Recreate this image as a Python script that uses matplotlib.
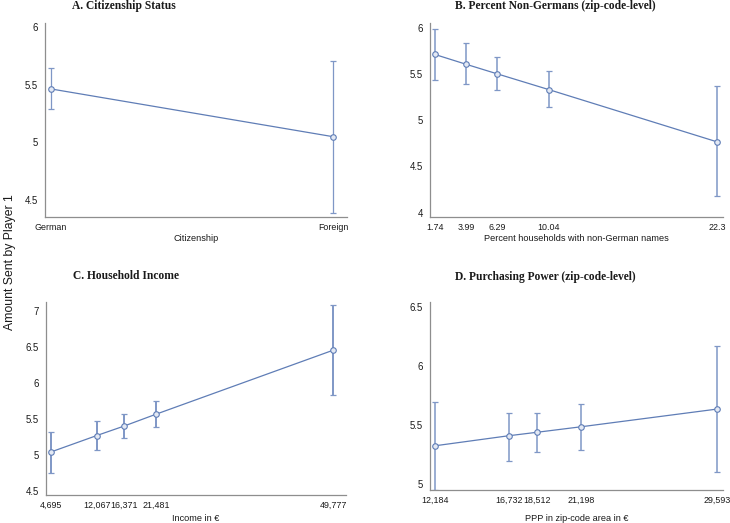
import matplotlib
matplotlib.use("Agg")
import matplotlib.pyplot as plt

# ---------------- data ----------------
# Panel A: citizenship
a_labels = ["German", "Foreign"]
a_x = [0, 1]
a_y = [5.465, 5.05]
a_lo = [5.29, 4.39]
a_hi = [5.65, 5.71]

# Panel B: percent non-Germans
b_x = [1.74, 3.99, 6.29, 10.04, 22.3]
b_labels = ["1.74", "3.99", "6.29", "10.04", "22.3"]
b_y = [5.71, 5.605, 5.50, 5.33, 4.765]
b_lo = [5.43, 5.39, 5.325, 5.14, 4.175]
b_hi = [5.99, 5.83, 5.68, 5.53, 5.37]

# Panel C: household income
c_x = [4695, 12067, 16371, 21481, 49777]
c_labels = ["4,695", "12,067", "16,371", "21,481", "49,777"]
c_y = [5.035, 5.265, 5.395, 5.56, 6.45]
c_lo = [4.74, 5.06, 5.225, 5.38, 5.83]
c_hi = [5.32, 5.46, 5.57, 5.74, 7.07]

# Panel D: purchasing power
d_x = [12184, 16732, 18512, 21198, 29593]
d_labels = ["12,184", "16,732", "18,512", "21,198", "29,593"]
d_y = [5.325, 5.41, 5.44, 5.486, 5.636]
d_lo = [4.95, 5.20, 5.27, 5.29, 5.10]
d_hi = [5.70, 5.60, 5.60, 5.68, 6.17]

a_yticks = [4.5, 5, 5.5, 6]
b_yticks = [4, 4.5, 5, 5.5, 6]
c_yticks = [4.5, 5, 5.5, 6, 6.5, 7]
d_yticks = [5, 5.5, 6, 6.5]

# ---------------- style ----------------
W, H = 730, 523
LINE = "#5f7db6"
ERR = "#7f97c6"
SPINE = "#8e8e8e"
TXT = "#1a1a1a"
SANS = "Liberation Sans"
SERIF = "Liberation Serif"

fig = plt.figure(figsize=(W / 100, H / 100), dpi=100)


def make_ax(x0, y_top, x1, y_bot):
    return fig.add_axes([x0 / W, 1 - y_bot / H, (x1 - x0) / W, (y_bot - y_top) / H])


def fmt_tick(v):
    return ("%g" % v)


def panel(ax, x, y, lo, hi, xticklabels, yticks, xlim, ylim, xlabel, elw, lp):
    yerr = [[yi - l for yi, l in zip(y, lo)], [h - yi for yi, h in zip(y, hi)]]
    ax.errorbar(x, y, yerr=yerr, fmt="none", ecolor=ERR, elinewidth=elw,
                capsize=2.2, capthick=0.9, zorder=2)
    ax.plot(x, y, color=LINE, lw=0.9, marker="o", ms=4,
            mfc="#e3e9f4", mec=LINE, mew=0.8, zorder=3)
    ax.set_xlim(*xlim)
    ax.set_ylim(*ylim)
    ax.set_xticks(x)
    ax.set_xticklabels(xticklabels, fontsize=6.4, family=SANS, color=TXT)
    ax.set_yticks(yticks)
    ax.set_yticklabels([fmt_tick(v) for v in yticks], fontsize=6.9,
                       family=SANS, color=TXT)
    ax.tick_params(axis="x", length=0, pad=4)
    ax.tick_params(axis="y", length=0, pad=5)
    for s in ["top", "right"]:
        ax.spines[s].set_visible(False)
    for s in ["left", "bottom"]:
        ax.spines[s].set_color(SPINE)
        ax.spines[s].set_linewidth(0.9)
    ax.set_xlabel(xlabel, fontsize=6.6, family=SANS, color=TXT, labelpad=lp)
    ax.patch.set_alpha(0)


axA = make_ax(45, 23.3, 347, 217.3)
panel(axA, a_x, a_y, a_lo, a_hi, a_labels, a_yticks, (-0.021, 1.049),
      (4.35, 6.035), "Citizenship", 0.9, 1.5)

axB = make_ax(430, 23.3, 723, 217.3)
panel(axB, b_x, b_y, b_lo, b_hi, b_labels, b_yticks, (1.38, 22.72),
      (3.95, 6.047), "Percent households with non-German names", 1.1, 1.5)

axC = make_ax(45.5, 301.5, 346, 495)
panel(axC, c_x, c_y, c_lo, c_hi, c_labels, c_yticks, (3897, 51800),
      (4.44, 7.125), "Income in €", 1.4, 3.5)

axD = make_ax(430, 301.7, 723, 490)
panel(axD, d_x, d_y, d_lo, d_hi, d_labels, d_yticks, (11875, 29980),
      (4.95, 6.547), "PPP in zip-code area in €", 1.1, 6.5)


# titles
def title(txt, xc, yc):
    fig.text(xc / W, 1 - yc / H, txt, ha="center", va="center",
             fontsize=8.3, fontweight="bold", family=SERIF, color=TXT)


title("A. Citizenship Status", 124, 5.5)
title("B. Percent Non-Germans (zip-code-level)", 555, 6.5)
title("C. Household Income", 125.6, 276)
title("D. Purchasing Power (zip-code-level)", 545, 277)

fig.text(10 / W, 1 - 262 / H, "Amount Sent by Player 1", rotation=90,
         ha="center", va="center", fontsize=8.8, family=SANS, color=TXT)

fig.savefig("out.png", dpi=100)
